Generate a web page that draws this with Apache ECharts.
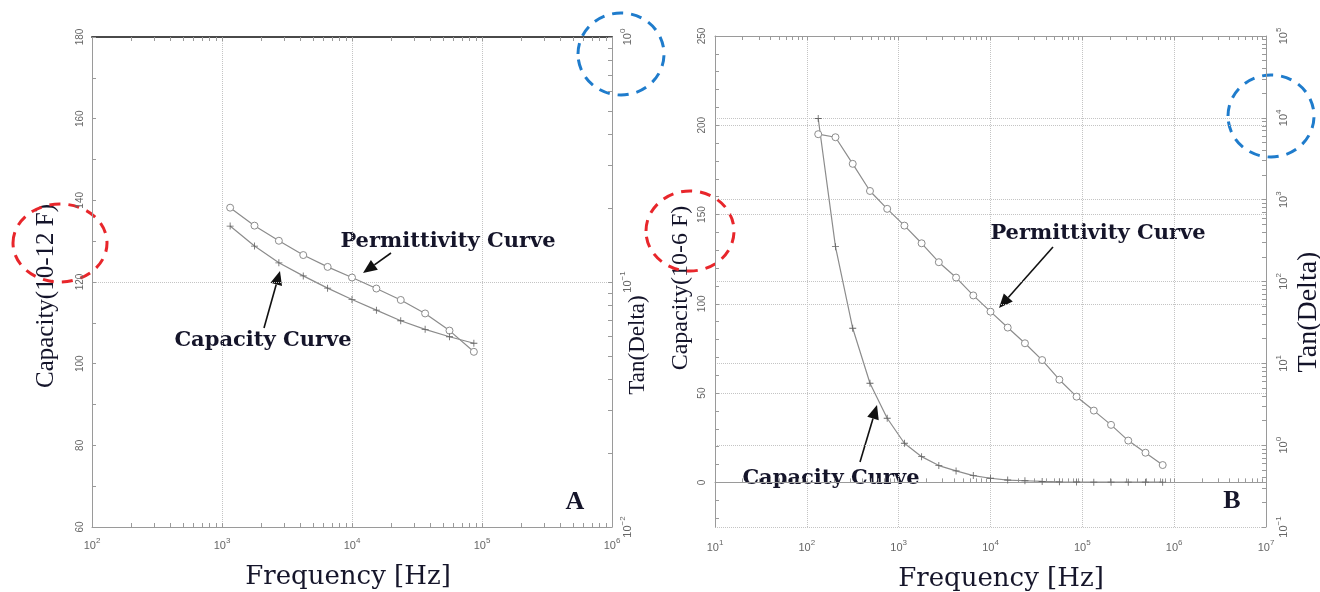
<!DOCTYPE html>
<html>
<head>
<meta charset="utf-8">
<script src="https://cdn.jsdelivr.net/npm/echarts@6/dist/echarts.min.js"></script>
<style>
html, body { margin: 0; padding: 0; background: #fff; }
#chart { width: 1320px; height: 592px; }
</style>
</head>
<body>
<div id="chart"></div>
<script>
// panel A, frequency in Hz
const freqA = [1155, 1778, 2738, 4217, 6494, 10000, 15399, 23714, 36517, 56234, 86596];
const permA = [138.2, 133.8, 130.1, 126.6, 123.7, 121.1, 118.4, 115.6, 112.3, 108.1, 102.9];
const capA = [133.7, 128.8, 124.7, 121.5, 118.5, 115.7, 113.1, 110.5, 108.4, 106.6, 105.0];

// panel B
const freqB = [133, 205, 316, 487, 750, 1155, 1778, 2738, 4217, 6494, 10000, 15399, 23714,
  36517, 56234, 86596, 133352, 205353, 316228, 486968, 749894];
const permB = [195.0, 193.3, 178.4, 163.2, 153.2, 143.8, 133.9, 123.3, 114.7, 104.7, 95.6, 86.7,
  77.9, 68.5, 57.5, 48.0, 40.2, 32.2, 23.4, 16.6, 9.7];
const capB = [203.8, 132.0, 86.3, 55.5, 35.9, 21.9, 14.4, 9.4, 6.4, 3.8, 2.3, 1.3, 0.9, 0.5,
  0.3, 0.2, 0.1, 0.1, 0.1, 0.1, 0.1];

// tick labels
const xLabelsA = [1e2, 1e3, 1e4, 1e5, 1e6];
const xLabelsB = [1e1, 1e2, 1e3, 1e4, 1e5, 1e6, 1e7];
const yLabelsA = [60, 80, 100, 120, 140, 160, 180];
const yLabelsB = [0, 50, 100, 150, 200, 250];
const tanLabelsA = [0.01, 0.1, 1];
const tanLabelsB = [0.1, 1, 10, 100, 1000, 10000, 100000];

const chart = echarts.init(document.getElementById('chart'));

const gray = '#9a9a9a';
const tickFont = { fontFamily: 'Liberation Sans', fontSize: 10, color: '#666' };
const powRich = {
  b: { fontFamily: 'Liberation Sans', fontSize: 11, color: '#666', verticalAlign: 'bottom' },
  s: { fontFamily: 'Liberation Sans', fontSize: 8, color: '#666', verticalAlign: 'bottom', padding: [0, 0, 6, 0] }
};
const dotted = { show: true, lineStyle: { type: 'dotted', color: '#c4c4c4', width: 1 } };

function pow10(v) {
  const e = Math.round(Math.log10(v));
  return '{b|10}{s|' + (e < 0 ? '−' + (-e) : e) + '}';
}

// 1..9 per decade, for the log tick marks
function logTicks(lo, hi) {
  const out = [];
  for (let e = lo; e < hi; e++) {
    for (let k = 1; k < 10; k++) out.push(+(k * Math.pow(10, e)).toPrecision(6));
  }
  out.push(Math.pow(10, hi));
  return out;
}

function tickAxis(base, values, line) {
  return Object.assign({
    axisLine: line || { show: false },
    axisLabel: { show: false },
    axisTick: { show: true, inside: true, length: 4, customValues: values, lineStyle: { color: gray } },
    splitLine: { show: false }
  }, base);
}

const pairs = (xs, ys) => xs.map((x, i) => [x, ys[i]]);
const plus = 'path://M4.4,0h1.2v10h-1.2z M0,4.4h10v1.2h-10z';

function permSeries(x, y, data) {
  return {
    type: 'line', xAxisIndex: x, yAxisIndex: y, data: data,
    symbol: 'circle', symbolSize: 7, showAllSymbol: true,
    lineStyle: { color: '#8c8c8c', width: 1.2 },
    itemStyle: { color: '#fff', borderColor: '#8c8c8c', borderWidth: 1 }
  };
}
function capSeries(x, y, data) {
  return {
    type: 'line', xAxisIndex: x, yAxisIndex: y, data: data,
    symbol: plus, symbolSize: 7, showAllSymbol: true,
    lineStyle: { color: '#8c8c8c', width: 1.2 },
    itemStyle: { color: '#666' }
  };
}

function arrow(x1, y1, x2, y2) {
  const a = Math.atan2(y2 - y1, x2 - x1), L = 14, W = 6;
  const bx = x2 - L * Math.cos(a), by = y2 - L * Math.sin(a);
  const px = -Math.sin(a) * W, py = Math.cos(a) * W;
  return [
    { type: 'line', shape: { x1: x1, y1: y1, x2: bx, y2: by }, style: { stroke: '#111', lineWidth: 1.6 } },
    { type: 'polygon', shape: { points: [[x2, y2], [bx + px, by + py], [bx - px, by - py]] }, style: { fill: '#111' } }
  ];
}
function label(text, x, y, font) {
  return {
    type: 'text', x: x, y: y,
    style: { text: text, fill: '#15152a', align: 'center', verticalAlign: 'middle', font: font }
  };
}
function vTitle(text, x, y, size) {
  return {
    type: 'text', x: x, y: y, rotation: Math.PI / 2,
    style: { text: text, fill: '#14142a', align: 'center', verticalAlign: 'middle', font: size + 'px "Liberation Serif"' }
  };
}
function ring(cx, cy, rx, ry, color) {
  return {
    type: 'ellipse', shape: { cx: cx, cy: cy, rx: rx, ry: ry },
    style: { fill: 'none', stroke: color, lineWidth: 3, lineDash: [11, 8] }
  };
}

const noteFont = 'bold 21px "DejaVu Serif"';
const axisFont = '26px "DejaVu Serif"';

const option = {
  animation: false,
  backgroundColor: '#fff',
  grid: [
    { left: 92, top: 37, width: 520, height: 490, outerBoundsMode: 'none' },
    { left: 715, top: 36, width: 551, height: 491, outerBoundsMode: 'none' }
  ],
  xAxis: [
    // A
    {
      type: 'log', logBase: 10, gridIndex: 0, position: 'bottom', min: 1e2, max: 1e6,
      axisLine: { lineStyle: { color: gray } }, axisTick: { show: false },
      axisLabel: { margin: 10, customValues: xLabelsA, formatter: pow10, rich: powRich },
      splitLine: dotted
    },
    tickAxis({ type: 'log', logBase: 10, gridIndex: 0, position: 'bottom', min: 1e2, max: 1e6 }, logTicks(2, 6)),
    tickAxis({ type: 'log', logBase: 10, gridIndex: 0, position: 'top', min: 1e2, max: 1e6 }, logTicks(2, 6),
      { show: true, lineStyle: { color: '#4a4a4a', width: 2 } }),
    // B
    {
      type: 'log', logBase: 10, gridIndex: 1, position: 'bottom', min: 1e1, max: 1e7,
      axisLine: { lineStyle: { color: gray } }, axisTick: { show: false },
      axisLabel: { margin: 12, customValues: xLabelsB, formatter: pow10, rich: powRich },
      splitLine: dotted
    },
    tickAxis({ type: 'log', logBase: 10, gridIndex: 1, position: 'bottom', min: 1e1, max: 1e7 }, logTicks(1, 7)),
    tickAxis({ type: 'log', logBase: 10, gridIndex: 1, position: 'top', min: 1e1, max: 1e7 }, logTicks(1, 7),
      { show: true, lineStyle: { color: gray } })
  ],
  yAxis: [
    // A left
    {
      type: 'value', gridIndex: 0, position: 'left', min: 60, max: 180, interval: 20,
      axisLine: { show: true, lineStyle: { color: gray } },
      axisTick: { show: true, inside: true, length: 4, lineStyle: { color: gray } },
      minorTick: { show: true, splitNumber: 2, length: 4, lineStyle: { color: gray } },
      axisLabel: Object.assign({ rotate: 90, margin: 7, customValues: yLabelsA }, tickFont),
      splitLine: { show: false }
    },
    // A right
    {
      type: 'log', logBase: 10, gridIndex: 0, position: 'right', min: 0.01, max: 1,
      axisLine: { show: true, lineStyle: { color: gray } }, axisTick: { show: false },
      axisLabel: { rotate: 90, margin: 7, customValues: tanLabelsA, formatter: pow10, rich: powRich },
      splitLine: dotted
    },
    tickAxis({ type: 'log', logBase: 10, gridIndex: 0, position: 'right', min: 0.01, max: 1 }, logTicks(-2, 0)),
    // B left
    {
      type: 'value', gridIndex: 1, position: 'left', min: -25, max: 250,
      axisLine: { show: true, lineStyle: { color: gray } }, axisTick: { show: false },
      axisLabel: Object.assign({ rotate: 90, margin: 8, customValues: yLabelsB }, tickFont),
      splitLine: dotted
    },
    tickAxis({ type: 'value', gridIndex: 1, position: 'left', min: -25, max: 250 },
      [-20, -10, 0, 10, 20, 30, 40, 50, 60, 70, 80, 90, 100, 110, 120, 130, 140, 150, 160, 170, 180, 190, 200, 210, 220, 230, 240, 250]),
    // B right
    {
      type: 'log', logBase: 10, gridIndex: 1, position: 'right', min: 0.1, max: 1e5,
      axisLine: { show: true, lineStyle: { color: gray } }, axisTick: { show: false },
      axisLabel: { rotate: 90, margin: 9, customValues: tanLabelsB, formatter: pow10, rich: powRich },
      splitLine: dotted
    },
    tickAxis({ type: 'log', logBase: 10, gridIndex: 1, position: 'right', min: 0.1, max: 1e5 }, logTicks(-1, 5))
  ],
  series: [
    permSeries(0, 0, pairs(freqA, permA)),
    capSeries(0, 0, pairs(freqA, capA)),
    permSeries(3, 3, pairs(freqB, permB)),
    capSeries(3, 3, pairs(freqB, capB))
  ],
  graphic: [].concat(
    [
      vTitle('Capacity(10-12 F)', 46, 296, 25),
      vTitle('Tan(Delta)', 638, 345, 23),
      vTitle('Capacity(10-6 F)', 681, 288, 24),
      vTitle('Tan(Delta)', 1309, 312, 28),
      label('Frequency [Hz]', 348, 577, axisFont),
      label('Frequency [Hz]', 1001, 579, axisFont),
      label('Permittivity Curve', 448, 242, noteFont),
      label('Capacity Curve', 263, 341, noteFont),
      label('Permittivity Curve', 1098, 234, noteFont),
      label('Capacity Curve', 831, 479, noteFont),
      label('A', 575, 502, 'bold 26px "Liberation Serif"'),
      label('B', 1232, 501, 'bold 26px "Liberation Serif"'),
      ring(60, 243, 47, 39, '#e8262b'),
      ring(621, 54, 43, 41, '#1f7ccc'),
      ring(690, 231, 44, 40, '#e8262b'),
      ring(1271, 116, 43, 41, '#1f7ccc')
    ],
    arrow(391, 253, 363, 273),
    arrow(264, 328, 280, 271),
    arrow(1053, 247, 999, 308),
    arrow(860, 462, 877, 405)
  )
};

chart.setOption(option);
</script>
</body>
</html>
